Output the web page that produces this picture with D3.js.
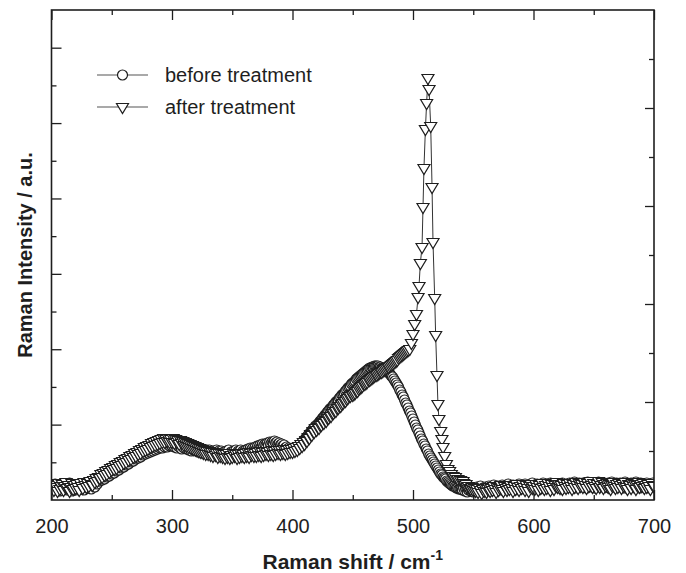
<!DOCTYPE html>
<html><head><meta charset="utf-8">
<script src="https://cdn.jsdelivr.net/npm/d3@7"></script>
<style>body{margin:0;background:#fff}svg{display:block}</style>
</head><body><svg id="c" width="686" height="573"></svg>
<script>
// ---------- data (arbitrary intensity units) ----------
const xTicks = [200, 300, 400, 500, 600, 700];
const xMinorTicks = [250, 350, 450, 550, 650];
const leftMajorTicks = [1, 2, 3, 4, 5, 6];
const leftMinorTicks = [0.5, 1.5, 2.5, 3.5, 4.5, 5.5];
const rightMajorTicks = [1, 2, 3, 4];
const rightMinorTicks = [0.5, 1.5, 2.5, 3.5, 4.5];
const seriesNames = ["before treatment", "after treatment"];

// shared Raman-shift grid (cm-1), every 1 cm-1
const shifts = d3.range(200, 701, 1);

const beforeValues = [
  14,11,13,16,10,12,15,9,13,12,
  16,11,14,10,13,17,12,9,14,12,
  10,15,13,11,16,12,14,10,15,13,
  12,16,14,11,17,15,13,18,16,19,
  19,22,20,24,21,25,23,26,24,27,
  26,29,27,31,29,32,30,34,32,35,
  33,37,35,38,36,40,38,41,39,42,
  41,44,42,45,43,47,45,48,46,49,
  47,50,48,51,49,52,50,53,51,54,
  52,55,52,56,53,55,53,56,54,55,
  54,56,53,55,52,55,53,54,51,54,
  52,54,51,53,50,52,49,52,50,51,
  49,51,48,50,47,50,48,49,47,50,
  48,50,47,49,46,49,47,50,46,49,
  46,49,47,48,46,49,47,50,46,48,
  47,49,46,50,47,49,48,50,47,49,
  48,50,48,51,49,52,50,52,50,53,
  51,54,52,55,53,56,54,56,55,57,
  55,58,56,58,57,59,57,58,56,57,
  55,56,54,55,52,53,51,52,50,51,
  49,51,50,52,51,53,53,56,56,59,
  59,62,62,65,65,68,68,71,71,74,
  74,76,77,79,80,82,83,85,86,88,
  89,91,92,93,95,96,98,99,100,102,
  103,105,106,107,109,110,112,113,114,116,
  117,118,119,121,122,123,124,125,126,127,
  128,129,130,131,132,132,133,133,134,134,
  134,134,133,133,132,132,131,130,129,128,
  127,126,124,123,121,119,117,115,113,110,
  108,105,103,100,97,95,92,89,87,84,
  81,78,75,72,70,67,64,61,59,56,
  54,51,49,46,44,42,40,38,36,34,
  32,30,28,26,25,23,22,21,19,18,
  17,16,15,14,14,13,12,12,11,11,
  11,10,12,9,11,8,10,12,9,11,
  8,12,10,13,9,11,14,10,12,9,
  13,10,12,14,9,13,11,15,10,12,
  14,11,13,10,15,12,14,11,13,16,
  12,14,11,15,13,10,14,12,16,13,
  11,15,13,16,12,14,11,15,13,17,
  13,15,12,16,14,11,15,13,17,14,
  12,16,14,13,17,12,15,14,16,13,
  15,12,16,14,17,13,15,12,16,14,
  17,13,15,14,18,12,16,14,17,15,
  13,17,15,16,12,18,14,16,13,17,
  15,12,16,14,18,13,16,15,17,13,
  16,14,17,12,15,18,14,16,13,17,
  15,13,17,14,16,12,18,15,13,16,
  14,17,15,13,16,18,14,15,12,17,
  15,13,16,14,17,15,12,16,14,17,
  15
];

// after treatment: 200-496 on the grid
const afterLeftValues = [
  12,16,10,15,13,9,17,11,14,16,
  10,14,18,12,15,9,13,17,11,15,
  12,16,13,10,17,14,12,18,15,13,
  17,14,19,16,15,20,18,22,19,23,
  22,26,23,27,25,29,26,30,28,32,
  30,33,31,35,32,36,34,38,35,39,
  37,41,38,42,40,44,41,45,43,47,
  44,48,46,50,47,51,49,53,50,54,
  51,55,53,57,54,58,55,59,56,60,
  57,61,58,62,58,61,59,62,58,61,
  58,62,57,61,58,60,56,60,57,59,
  55,58,54,57,53,56,52,55,51,54,
  50,53,49,52,48,51,47,50,46,49,
  46,49,45,48,44,48,45,47,43,47,
  44,47,43,46,42,46,43,47,42,45,
  43,47,44,46,42,46,43,47,44,46,
  43,47,44,48,43,47,45,48,44,47,
  44,48,45,49,44,48,45,49,46,48,
  45,49,46,50,45,49,46,50,47,50,
  46,50,47,51,46,50,47,51,48,51,
  48,52,49,53,50,54,52,56,54,58,
  56,60,59,63,62,66,65,69,68,72,
  70,73,72,75,75,78,77,80,79,82,
  82,84,84,87,87,89,89,92,92,94,
  94,96,97,99,99,101,102,104,104,106,
  105,106,107,109,109,111,112,113,114,116,
  116,117,118,120,120,121,122,123,124,125,
  125,126,127,128,128,129,130,131,132,133,
  133,134,135,136,137,138,139,140,142,143,
  144,145,146,147,148,149,150
];
// after treatment: Si peak region
const afterPeakShift = [497.3,498.7,500,501.4,502.9,504.2,505,506.1,507.5,508.3,509.1,510.3,511.3,512.4,
  513.3,514.7,515.8,516.6,518,518.8,519.9,520.7,521.5,523,524,524.9,526.3,527.7,529,530.4,531.8,533.2,
  535.2,537.3,539.4,541.5];
const afterPeakValues = [151,157,166,176,186,203,214,237,253,293,332,371,397,422,
  411,374,313,258,202,165,125,96,81,69,61,53,44,36,31,29,26,24,
  23,21,20,19];
// after treatment: 542-700 on the grid
const afterRightValues = [
  17,15,16,13,14,12,11,13,
  10,12,9,11,8,12,10,7,11,9,
  12,8,11,13,9,12,10,14,11,8,
  13,10,12,15,11,9,14,12,10,13,
  11,15,12,9,14,11,16,13,10,14,
  12,16,13,10,15,12,9,14,16,12,
  14,11,16,13,10,15,12,17,13,11,
  15,12,17,14,10,16,13,11,15,18,
  13,16,12,15,11,17,14,12,16,13,
  17,14,11,16,13,18,15,12,17,14,
  16,13,18,15,12,17,14,19,15,13,
  17,14,12,16,19,13,15,18,12,16,
  14,17,13,16,11,15,18,14,12,16,
  13,17,15,12,16,14,18,13,11,16,
  15,12,17,14,16,11,15,18,13,16,
  14,17,12,15,13,16,14,11,17,15,
  14
];

const before = shifts.map((s, i) => ({x: s, y: beforeValues[i]}));
const leftShift = shifts.filter(s => s <= 496);
const rightShift = shifts.filter(s => s >= 542);
const after = [
  ...leftShift.map((s, i) => ({x: s, y: afterLeftValues[i]})),
  ...afterPeakShift.map((s, i) => ({x: s, y: afterPeakValues[i]})),
  ...rightShift.map((s, i) => ({x: s, y: afterRightValues[i]}))
];

// ---------- layout ----------
const m = {l: 51.5, r: 654, t: 10, b: 500};
const svg = d3.select("#c");
const font = "'Liberation Sans', Arial, Helvetica, sans-serif";
const ink = "#1e1e1e";

const x = d3.scaleLinear().domain([200, 700]).range([m.l, m.r]);
const y = d3.scaleLinear().domain([0, 490]).range([m.b, m.t]);
const yL = d3.scaleLinear().domain([0, 6.5]).range([m.b, m.t]);
const yR = d3.scaleLinear().domain([0, 5]).range([m.b, m.t]);

svg.append("defs").append("clipPath").attr("id", "plot")
  .append("rect").attr("x", m.l).attr("y", m.t).attr("width", m.r - m.l).attr("height", m.b - m.t);

const tri = "M-6,-3.5L6,-3.5L0,6.5Z";

// ---------- data ----------
const gData = svg.append("g").attr("clip-path", "url(#plot)");
const line = d3.line().x(d => x(d.x)).y(d => y(d.y));

function drawSeries(data, kind) {
  gData.append("path").datum(data).attr("d", line)
    .attr("fill", "none").attr("stroke", "#333").attr("stroke-width", 1);
  const g = gData.append("g");
  if (kind === "circle") {
    g.selectAll("circle").data(data).join("circle")
      .attr("cx", d => x(d.x)).attr("cy", d => y(d.y)).attr("r", 5)
      .attr("fill", "#fff").attr("stroke", ink).attr("stroke-width", 1.2);
  } else {
    g.selectAll("path").data(data).join("path")
      .attr("transform", d => `translate(${x(d.x)},${y(d.y)})`)
      .attr("d", tri)
      .attr("fill", "#fff").attr("stroke", ink).attr("stroke-width", 1.2);
  }
}
drawSeries(before, "circle");
drawSeries(after, "tri");

// ---------- axes ----------
function styleAxis(g) {
  g.select(".domain").remove();
  g.selectAll(".tick line").attr("stroke", ink).attr("stroke-width", 1.3);
}
svg.append("g").attr("transform", `translate(0,${m.b})`)
  .call(d3.axisBottom(x).tickValues(xTicks).tickSize(-10).tickFormat(d3.format("d")))
  .call(styleAxis)
  .call(g => g.selectAll("text").attr("y", 33).attr("dy", 0)
    .attr("font-family", font).attr("font-size", 20).attr("fill", ink));
svg.append("g").attr("transform", `translate(0,${m.b})`)
  .call(d3.axisBottom(x).tickValues(xMinorTicks).tickSize(-5).tickFormat(""))
  .call(styleAxis);
svg.append("g").attr("transform", `translate(0,${m.t})`)
  .call(d3.axisTop(x).tickValues(xTicks).tickSize(-10).tickFormat(""))
  .call(styleAxis);
svg.append("g").attr("transform", `translate(0,${m.t})`)
  .call(d3.axisTop(x).tickValues(xMinorTicks).tickSize(-5).tickFormat(""))
  .call(styleAxis);
svg.append("g").attr("transform", `translate(${m.l},0)`)
  .call(d3.axisLeft(yL).tickValues(leftMajorTicks).tickSize(-10).tickFormat(""))
  .call(styleAxis);
svg.append("g").attr("transform", `translate(${m.l},0)`)
  .call(d3.axisLeft(yL).tickValues(leftMinorTicks).tickSize(-5).tickFormat(""))
  .call(styleAxis);
svg.append("g").attr("transform", `translate(${m.r},0)`)
  .call(d3.axisRight(yR).tickValues(rightMajorTicks).tickSize(-9).tickFormat(""))
  .call(styleAxis);
svg.append("g").attr("transform", `translate(${m.r},0)`)
  .call(d3.axisRight(yR).tickValues(rightMinorTicks).tickSize(-5).tickFormat(""))
  .call(styleAxis);

svg.append("rect").attr("x", m.l).attr("y", m.t).attr("width", m.r - m.l).attr("height", m.b - m.t)
  .attr("fill", "none").attr("stroke", ink).attr("stroke-width", 1.6);

// ---------- titles ----------
const xt = svg.append("text").attr("x", (m.l + m.r) / 2).attr("y", 569)
  .attr("text-anchor", "middle").attr("font-family", font).attr("font-size", 21)
  .attr("font-weight", "bold").attr("fill", ink);
xt.append("tspan").text("Raman shift / cm");
xt.append("tspan").attr("dy", -9).attr("font-size", 14).text("-1");

svg.append("text").attr("transform", `translate(32,${(m.t + m.b) / 2}) rotate(-90)`)
  .attr("text-anchor", "middle").attr("font-family", font).attr("font-size", 20)
  .attr("font-weight", "bold").attr("fill", ink).text("Raman Intensity / a.u.");

// ---------- legend ----------
const legY = [75, 107];
seriesNames.forEach((name, i) => {
  const g = svg.append("g").attr("transform", `translate(0,${legY[i]})`);
  g.append("line").attr("x1", 97).attr("x2", 148).attr("y1", 0).attr("y2", 0)
    .attr("stroke", "#555").attr("stroke-width", 1.2);
  if (i === 0) {
    g.append("circle").attr("cx", 122.5).attr("cy", 0).attr("r", 5)
      .attr("fill", "#fff").attr("stroke", ink).attr("stroke-width", 1.2);
  } else {
    g.append("path").attr("transform", "translate(122.5,0)").attr("d", tri)
      .attr("fill", "#fff").attr("stroke", ink).attr("stroke-width", 1.2);
  }
  g.append("text").attr("x", 165).attr("y", 7).attr("font-family", font)
    .attr("font-size", 20).attr("fill", ink).text(name);
});
</script>
</body></html>
